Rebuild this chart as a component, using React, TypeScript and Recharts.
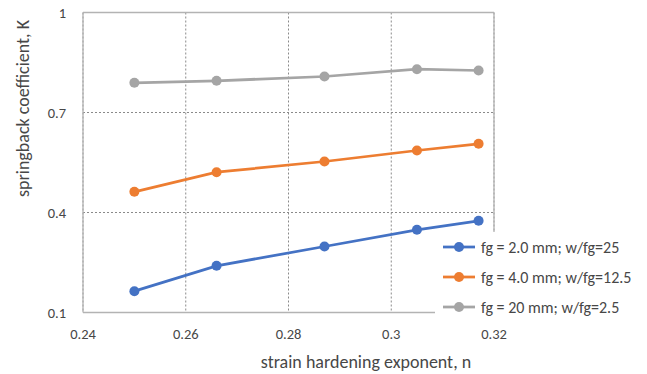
import React from "react";
import {
  LineChart,
  Line,
  XAxis,
  YAxis,
  CartesianGrid,
  Legend,
  ReferenceLine,
} from "recharts";

const nValues = [0.25, 0.266, 0.287, 0.305, 0.317];
const series1 = [0.164, 0.24, 0.298, 0.348, 0.375];
const series2 = [0.462, 0.521, 0.553, 0.586, 0.606];
const series3 = [0.789, 0.795, 0.808, 0.83, 0.826];
const seriesNames = [
  "fg = 2.0 mm; w/fg=25",
  "fg = 4.0 mm; w/fg=12.5",
  "fg = 20 mm; w/fg=2.5",
];
const seriesColors = ["#4472C4", "#ED7D31", "#A5A5A5"];
const xTicks = [0.24, 0.26, 0.28, 0.3, 0.32];
const yTicks = [0.1, 0.4, 0.7, 1];
const xTitle = "strain hardening exponent, n";
const yTitle = "springback coefficient, K";

const data = nValues.map((n, i) => ({
  n,
  s1: series1[i],
  s2: series2[i],
  s3: series3[i],
}));

const FONT = "Carlito, Calibri, Lato, 'Noto Sans', sans-serif";
const TEXT = "#474747";

const XTick = (props: any) => {
  const { x, y, payload } = props;
  return (
    <text
      x={x}
      y={y + 21}
      textAnchor="middle"
      dominantBaseline="central"
      fill={TEXT}
      fontSize={14.5}
      fontFamily={FONT}
    >
      {String(+Number(payload.value).toFixed(2))}
    </text>
  );
};

const YTick = (props: any) => {
  const { x, y, payload } = props;
  return (
    <text
      x={x - 17}
      y={y}
      textAnchor="end"
      dominantBaseline="central"
      fill={TEXT}
      fontSize={14.5}
      fontFamily={FONT}
    >
      {String(+Number(payload.value).toFixed(2))}
    </text>
  );
};

const renderLegend = (props: any) => {
  const { payload } = props;
  return (
    <div style={{ background: "#fff", width: 212, paddingTop: 0 }}>
      {(payload || []).map((entry: any, i: number) => (
        <div
          key={i}
          style={{
            height: 30,
            display: "flex",
            alignItems: "center",
            fontFamily: FONT,
            fontSize: 16,
            color: TEXT,
            whiteSpace: "nowrap",
          }}
        >
          <svg width={46} height={14} style={{ flex: "none" }}>
            <line x1={8} y1={7} x2={40} y2={7} stroke={entry.color} strokeWidth={2.75} />
            <circle cx={24} cy={7} r={5} fill={entry.color} />
          </svg>
          <span>{entry.value}</span>
        </div>
      ))}
    </div>
  );
};

export default function App() {
  return (
    <div style={{ position: "absolute", left: 0, top: 0, background: "#fff" }}>
      <LineChart
        width={647}
        height={374}
        data={data}
        margin={{ top: 12.5, right: 153, bottom: 0, left: 0 }}
      >
        <CartesianGrid stroke="#8a8a8a" strokeDasharray="2 2" strokeWidth={1} />
        <ReferenceLine y={1} stroke="#b3b3b3" strokeWidth={1.3} />
        <ReferenceLine x={0.32} stroke="#b3b3b3" strokeWidth={1.3} />
        <XAxis
          dataKey="n"
          type="number"
          domain={[0.24, 0.32]}
          ticks={xTicks}
          tick={XTick}
          tickLine={false}
          tickSize={0}
          tickMargin={0}
          height={61.5}
          axisLine={{ stroke: "#b3b3b3", strokeWidth: 1.3 }}
          label={{
            content: (p: any) => {
              const vb = p.viewBox;
              return (
                <text
                  x={vb.x + 283}
                  y={vb.y + 49}
                  textAnchor="middle"
                  dominantBaseline="central"
                  fill={TEXT}
                  fontSize={18}
                  fontFamily={FONT}
                >
                  {xTitle}
                </text>
              );
            },
          }}
        />
        <YAxis
          type="number"
          domain={[0.1, 1]}
          ticks={yTicks}
          tick={YTick}
          tickLine={false}
          tickSize={0}
          tickMargin={0}
          width={83}
          axisLine={{ stroke: "#b3b3b3", strokeWidth: 1.3 }}
          label={{
            content: (p: any) => {
              const vb = p.viewBox;
              const cx = vb.x + 23;
              const cy = vb.y + 96;
              return (
                <text
                  x={cx}
                  y={cy}
                  transform={`rotate(-90 ${cx} ${cy})`}
                  textAnchor="middle"
                  dominantBaseline="central"
                  fill={TEXT}
                  fontSize={18}
                  fontFamily={FONT}
                >
                  {yTitle}
                </text>
              );
            },
          }}
        />
        <Legend
          layout="vertical"
          align="center"
          verticalAlign="middle"
          itemSorter="dataKey"
          content={renderLegend}
          wrapperStyle={{ position: "absolute", left: 435, top: 232, width: 212, background: "#fff" }}
        />
        <Line
          dataKey="s1"
          name={seriesNames[0]}
          stroke={seriesColors[0]}
          strokeWidth={2.75}
          dot={{ r: 5, fill: seriesColors[0], stroke: seriesColors[0], strokeWidth: 0 }}
          isAnimationActive={false}
        />
        <Line
          dataKey="s2"
          name={seriesNames[1]}
          stroke={seriesColors[1]}
          strokeWidth={2.75}
          dot={{ r: 5, fill: seriesColors[1], stroke: seriesColors[1], strokeWidth: 0 }}
          isAnimationActive={false}
        />
        <Line
          dataKey="s3"
          name={seriesNames[2]}
          stroke={seriesColors[2]}
          strokeWidth={2.75}
          dot={{ r: 5, fill: seriesColors[2], stroke: seriesColors[2], strokeWidth: 0 }}
          isAnimationActive={false}
        />
      </LineChart>
    </div>
  );
}
